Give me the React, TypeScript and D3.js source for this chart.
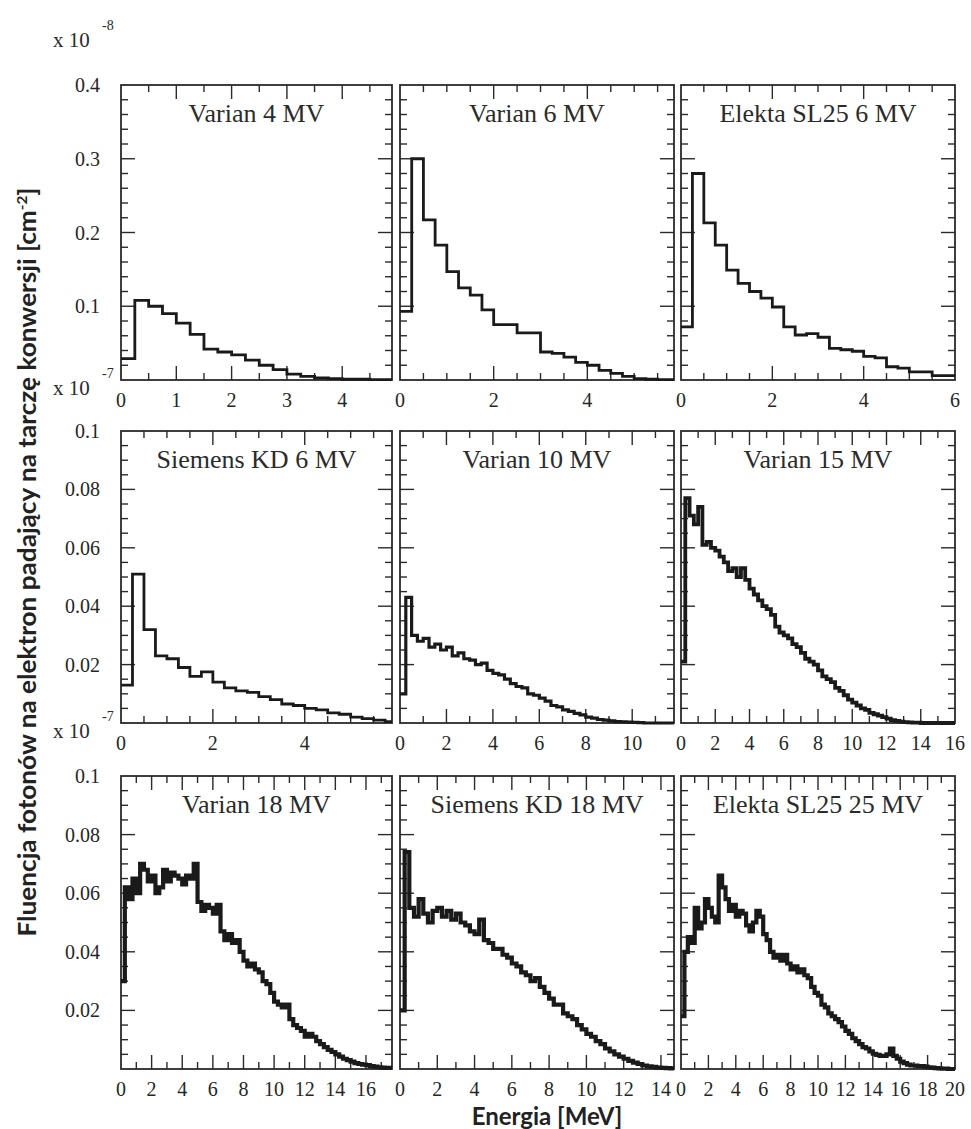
import React from 'react';
import * as d3 from 'd3';

// photon fluence spectra per incident electron, 0.25 MeV bins
const TITLES = [
  'Varian 4 MV', 'Varian 6 MV', 'Elekta SL25 6 MV',
  'Siemens KD 6 MV', 'Varian 10 MV', 'Varian 15 MV',
  'Varian 18 MV', 'Siemens KD 18 MV', 'Elekta SL25 25 MV',
];

const varian4 = [0.029, 0.108, 0.100, 0.090, 0.077, 0.062, 0.042, 0.038, 0.034, 0.027,
  0.020, 0.014, 0.008, 0.005, 0.003, 0.002, 0.001, 0.001, 0.0005, 0.0005];

const varian6 = [0.093, 0.300, 0.217, 0.183, 0.147, 0.125, 0.115, 0.095, 0.075, 0.075,
  0.064, 0.064, 0.038, 0.036, 0.031, 0.024, 0.020, 0.013, 0.009, 0.005,
  0.002, 0.001, 0.0005, 0.0005];

const elekta6 = [0.072, 0.280, 0.213, 0.183, 0.149, 0.131, 0.120, 0.111, 0.099, 0.072,
  0.061, 0.063, 0.058, 0.043, 0.041, 0.039, 0.032, 0.030, 0.018, 0.016,
  0.011, 0.011, 0.006, 0.006];

const siemens6 = [0.013, 0.051, 0.032, 0.023, 0.022, 0.019, 0.016, 0.0175, 0.014, 0.012,
  0.011, 0.0105, 0.009, 0.008, 0.0065, 0.006, 0.005, 0.0045, 0.0035, 0.003,
  0.002, 0.0015, 0.001, 0.0005];

const varian10 = [0.010, 0.043, 0.030, 0.028, 0.029, 0.026, 0.027, 0.025, 0.026, 0.023,
  0.024, 0.022, 0.0215, 0.020, 0.0205, 0.018, 0.017, 0.0165, 0.015, 0.0135,
  0.0125, 0.012, 0.010, 0.0095, 0.0085, 0.0075, 0.006, 0.0055, 0.0045, 0.004,
  0.0033, 0.0028, 0.002, 0.0017, 0.0012, 0.001, 0.0007, 0.0005, 0.0004, 0.0003,
  0.0002, 0.0001, 0, 0, 0, 0, 0, 0];

const varian15 = [0.021, 0.077, 0.071, 0.068, 0.074, 0.061, 0.062, 0.060, 0.059, 0.057,
  0.055, 0.052, 0.053, 0.050, 0.053, 0.049, 0.046, 0.044, 0.042, 0.040,
  0.039, 0.037, 0.033, 0.031, 0.030, 0.029, 0.027, 0.026, 0.024, 0.022,
  0.021, 0.020, 0.018, 0.016, 0.015, 0.014, 0.012, 0.011, 0.0095, 0.008,
  0.007, 0.006, 0.005, 0.0045, 0.0035, 0.003, 0.0025, 0.002, 0.0015, 0.001,
  0.0007, 0.0005, 0.0003, 0.0002, 0.0001, 0.0001, 0, 0, 0, 0,
  0, 0, 0, 0];

const varian18 = [0.030, 0.062, 0.058, 0.065, 0.060, 0.070, 0.068, 0.064, 0.066, 0.060,
  0.062, 0.068, 0.064, 0.067, 0.066, 0.065, 0.063, 0.066, 0.065, 0.070,
  0.057, 0.054, 0.056, 0.055, 0.053, 0.056, 0.047, 0.044, 0.046, 0.043,
  0.044, 0.040, 0.037, 0.035, 0.036, 0.034, 0.033, 0.030, 0.029, 0.026,
  0.023, 0.022, 0.021, 0.022, 0.017, 0.015, 0.014, 0.013, 0.011, 0.012,
  0.011, 0.0095, 0.0085, 0.0075, 0.0065, 0.0058, 0.005, 0.0042, 0.0035, 0.003,
  0.0025, 0.002, 0.0017, 0.0015, 0.0013, 0.001, 0.0008, 0.0006, 0.0005, 0.0004,
  0.0004];

const siemens18 = [0.020, 0.074, 0.055, 0.052, 0.058, 0.053, 0.050, 0.054, 0.055, 0.052,
  0.054, 0.051, 0.053, 0.050, 0.049, 0.047, 0.046, 0.051, 0.044, 0.043,
  0.041, 0.041, 0.039, 0.038, 0.036, 0.035, 0.033, 0.032, 0.030, 0.031,
  0.028, 0.026, 0.024, 0.022, 0.022, 0.019, 0.018, 0.017, 0.015, 0.0135,
  0.012, 0.011, 0.0095, 0.0085, 0.007, 0.006, 0.005, 0.0042, 0.0035, 0.0028,
  0.0022, 0.0017, 0.0012, 0.0009, 0.0007, 0.0005, 0.0004, 0.0003, 0.0002];

const elekta25 = [0.018, 0.040, 0.045, 0.043, 0.055, 0.048, 0.050, 0.058, 0.055, 0.052,
  0.050, 0.066, 0.062, 0.058, 0.054, 0.056, 0.052, 0.054, 0.053, 0.049,
  0.047, 0.050, 0.054, 0.052, 0.046, 0.044, 0.040, 0.038, 0.039, 0.037,
  0.039, 0.036, 0.034, 0.035, 0.033, 0.034, 0.032, 0.031, 0.028, 0.026,
  0.025, 0.022, 0.021, 0.019, 0.018, 0.017, 0.016, 0.0145, 0.013, 0.012,
  0.0105, 0.0095, 0.0085, 0.0075, 0.007, 0.006, 0.0052, 0.0048, 0.0045, 0.0045,
  0.005, 0.007, 0.0045, 0.0035, 0.0025, 0.002, 0.0015, 0.0012, 0.0012, 0.001,
  0.001, 0.0008, 0.0006, 0.0005, 0.0003, 0.0002, 0.0001, 0.0001, 0, 0];

const SPECTRA = [varian4, varian6, elekta6, siemens6, varian10, varian15, varian18, siemens18, elekta25];
const BIN_WIDTH = 0.25;

const X_MAX = [4.9, 5.85, 6, 5.9, 11.8, 16, 17.7, 14.7, 20];
const X_LABELS = [
  [0, 1, 2, 3, 4], [0, 2, 4], [0, 2, 4, 6],
  [0, 2, 4], [0, 2, 4, 6, 8, 10], [0, 2, 4, 6, 8, 10, 12, 14, 16],
  [0, 2, 4, 6, 8, 10, 12, 14, 16], [0, 2, 4, 6, 8, 10, 12, 14], [0, 2, 4, 6, 8, 10, 12, 14, 16, 18, 20],
];
const X_MINOR = [0.5, 0.5, 0.5, 0.5, 1, 1, 1, 1, 1];

const Y_MAX = [0.4, 0.1, 0.1];
const Y_TICKS = [[0.1, 0.2, 0.3, 0.4], [0.02, 0.04, 0.06, 0.08, 0.1], [0.02, 0.04, 0.06, 0.08, 0.1]];
const Y_TICK_TEXT = [['0.1', '0.2', '0.3', '0.4'], ['0.02', '0.04', '0.06', '0.08', '0.1'], ['0.02', '0.04', '0.06', '0.08', '0.1']];
const Y_MINOR = [0.02, 0.005, 0.005];

// layout (pixels)
const COL_X = [121, 400, 681];
const COL_W = [271, 274, 274];
const ROW_Y = [85, 431, 776];
const ROW_H = [295, 292, 293];
const LINE_W = [2.8, 2.8, 2.8, 2.8, 3.2, 3.8, 4.2, 4.2, 4.2];

const SERIF = '"Liberation Serif", "Times New Roman", serif';
const SANS = 'Lato, "Open Sans", sans-serif';
const INK = '#1a1a1a';

function Panel({ i }: { i: number }) {
  const row = Math.floor(i / 3), col = i % 3;
  const x0 = COL_X[col], w = COL_W[col], y0 = ROW_Y[row], h = ROW_H[row];
  const x = d3.scaleLinear().domain([0, X_MAX[i]]).range([x0, x0 + w]);
  const y = d3.scaleLinear().domain([0, Y_MAX[row]]).range([y0 + h, y0]);

  const vals = SPECTRA[i];
  const pts: [number, number][] = vals.map((v, k) => [Math.min(k * BIN_WIDTH, X_MAX[i]), v]);
  pts.push([Math.min(vals.length * BIN_WIDTH, X_MAX[i]), vals[vals.length - 1]]);
  const step = d3.line<[number, number]>()
    .x(d => x(d[0]))
    .y(d => y(d[1]))
    .curve(d3.curveStepAfter);

  const xMinor = d3.range(X_MINOR[i], X_MAX[i] - 1e-6, X_MINOR[i]).filter(v => !X_LABELS[i].includes(v));
  const xMajor = X_LABELS[i].filter(v => v > 0 && v < X_MAX[i] - 1e-6);
  const yMinor = d3.range(Y_MINOR[row], Y_MAX[row] - 1e-9, Y_MINOR[row])
    .filter(v => !Y_TICKS[row].some(t => Math.abs(t - v) < 1e-9));
  const yMajor = Y_TICKS[row].filter(v => v < Y_MAX[row] - 1e-9);
  const big = 14, small = 7;
  const clipId = `clip-${i}`;

  return (
    <g>
      <defs>
        <clipPath id={clipId}>
          <rect x={x0} y={y0 - 2} width={w} height={h + 4} />
        </clipPath>
      </defs>
      <rect x={x0} y={y0} width={w} height={h} fill="none" stroke="#2a2a2a" strokeWidth={1.8} />
      <g stroke="#2a2a2a" strokeWidth={1.4}>
        {xMinor.map(v => (
          <g key={'xm' + v}>
            <line x1={x(v)} x2={x(v)} y1={y0 + h} y2={y0 + h - small} />
            <line x1={x(v)} x2={x(v)} y1={y0} y2={y0 + small} />
          </g>
        ))}
        {xMajor.map(v => (
          <g key={'xM' + v}>
            <line x1={x(v)} x2={x(v)} y1={y0 + h} y2={y0 + h - big} />
            <line x1={x(v)} x2={x(v)} y1={y0} y2={y0 + big} />
          </g>
        ))}
        {yMinor.map(v => (
          <g key={'ym' + v}>
            <line x1={x0} x2={x0 + small} y1={y(v)} y2={y(v)} />
            <line x1={x0 + w} x2={x0 + w - small} y1={y(v)} y2={y(v)} />
          </g>
        ))}
        {yMajor.map(v => (
          <g key={'yM' + v}>
            <line x1={x0} x2={x0 + big} y1={y(v)} y2={y(v)} />
            <line x1={x0 + w} x2={x0 + w - big} y1={y(v)} y2={y(v)} />
          </g>
        ))}
      </g>
      <path d={step(pts) || ''} fill="none" stroke={INK}
        strokeWidth={LINE_W[i]} strokeLinejoin="miter"
        clipPath={`url(#${clipId})`} />
      <text x={x0 + w / 2} y={y0 + 37} textAnchor="middle" fontFamily={SERIF}
        fontSize={26} fill="#2b2b2b">{TITLES[i]}</text>
      {X_LABELS[i].map(v => (
        <text key={'xl' + v} x={x(v)} y={y0 + h + 27} textAnchor="middle"
          fontFamily={SERIF} fontSize={20} fill="#262626">{v}</text>
      ))}
      {col === 0 && Y_TICKS[row].map((v, k) => (
        <text key={'yl' + v} x={x0 - 21} y={y(v)} dy="0.35em" textAnchor="end"
          fontFamily={SERIF} fontSize={20} fill="#262626">{Y_TICK_TEXT[row][k]}</text>
      ))}
    </g>
  );
}

function Multiplier({ x, y, exp }: { x: number; y: number; exp: string }) {
  return (
    <g fontFamily={SERIF} fill="#2b2b2b">
      <text x={x} y={y} fontSize={21}>x 10</text>
      <text x={x + 49} y={y - 17} fontSize={14}>{exp}</text>
    </g>
  );
}

export default function App() {
  return (
    <svg width={971} height={1129} style={{ position: 'absolute', left: 0, top: 0, background: '#fff' }}>
      <rect width={971} height={1129} fill="#fff" />
      {TITLES.map((_, i) => <Panel key={i} i={i} />)}
      <Multiplier x={53} y={47} exp="-8" />
      <Multiplier x={53} y={395} exp="-7" />
      <Multiplier x={53} y={738} exp="-7" />
      <text transform="translate(36,562) rotate(-90)" textAnchor="middle" fontFamily={SANS}
        fontWeight={700} fontSize={24} fill="#222" textLength={749} lengthAdjust="spacingAndGlyphs">
        Fluencja fotonów na elektron padający na tarczę konwersji [cm
        <tspan dy={-9} fontSize={14}>-2</tspan>
        <tspan dy={9}>]</tspan>
      </text>
      <text x={547} y={1125} textAnchor="middle" fontFamily={SANS} fontWeight={700}
        fontSize={24} fill="#222">Energia [MeV]</text>
    </svg>
  );
}
